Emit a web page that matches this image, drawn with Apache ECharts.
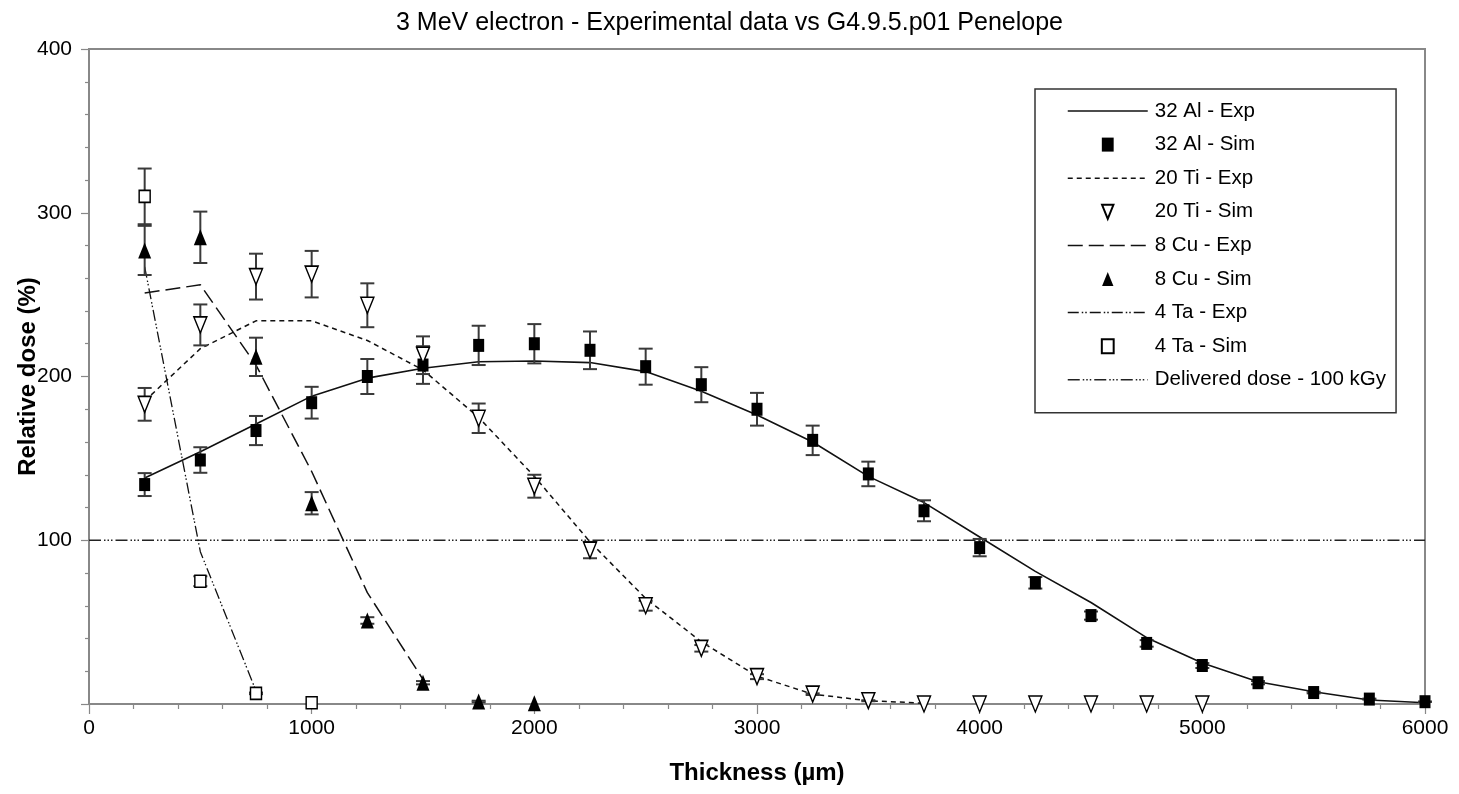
<!DOCTYPE html>
<html>
<head>
<meta charset="utf-8">
<script src="https://cdn.jsdelivr.net/npm/echarts@6/dist/echarts.min.js"></script>
<style>
  html, body { margin: 0; padding: 0; background: #fff; }
  #doseChart { width: 1459px; height: 794px; }
</style>
</head>
<body>
<div id="doseChart"></div>
<script>
// thickness grid (µm) shared by all series
const thickness = [250, 500, 750, 1000, 1250, 1500, 1750, 2000, 2250, 2500, 2750, 3000,
  3250, 3500, 3750, 4000, 4250, 4500, 4750, 5000, 5250, 5500, 5750, 6000];

// 32 Al
const alExp = [138, 154, 171, 188, 199, 205, 209, 209.5, 208.5, 203, 191, 176.5,
  160, 139, 123, 102, 81, 62, 40.5, 25, 13.6, 7.5, 2.4, 0.8];
const alSim = [134, 149, 167, 184, 200, 207, 219, 220, 216, 206, 195, 180,
  161, 140.5, 118, 95.5, 74, 54, 37, 23.5, 13, 7, 3, 1.4];
const alErr = [7, 7.8, 8.9, 9.7, 10.7, 11.5, 12, 12, 11.5, 11, 10.7, 10,
  9, 7.5, 6.4, 5.3, 3.5, 2.5, 2, 1.5, 1, 0.5, 0.3, 0.1];

// 20 Ti
const tiExp = [185, 217, 234, 234, 222, 204, 175, 139, 99, 64.5, 38, 17, 6, 2, 0.5];
const tiSim = [183, 231.5, 261, 262.5, 243.5, 213, 174.5, 133, 94, 60, 34, 16.7,
  6, 2, 0, 0, 0, 0, 0, 0];
const tiErr = [10, 12.5, 14, 14.2, 13.4, 11.5, 9, 7, 5, 3, 2, 1.5, 0.5, 0.3, 0, 0, 0, 0, 0, 0];

// 8 Cu
const cuExp = [251, 256, 207, 142, 68, 15];
const cuSim = [277, 285, 212, 122.6, 51, 13, 1.5, 0.5];
const cuErr = [15, 15.7, 11.7, 6.8, 2, 1, 0.5, 0];

// 4 Ta
const taExp = [267, 93, 8];
const taSim = [310, 75, 6.5, 0.8];
const taErr = [17, 3, 0.5, 0];

const deliveredDose = 100;

const FONT = '"Liberation Sans Narrow", "Liberation Sans", Arial, sans-serif';

function pairs(values) {
  return values.map(function (v, i) { return [thickness[i], v]; });
}

function errRows(values, errs) {
  const rows = [];
  values.forEach(function (v, i) {
    if (errs[i] > 0) rows.push([thickness[i], v - errs[i], v + errs[i]]);
  });
  return rows;
}

const errorData = [].concat(
  errRows(alSim, alErr), errRows(tiSim, tiErr), errRows(cuSim, cuErr), errRows(taSim, taErr)
);

function renderErrorBar(params, api) {
  const x = api.value(0);
  const lo = api.coord([x, api.value(1)]);
  const hi = api.coord([x, api.value(2)]);
  const half = 7;
  const style = { stroke: '#3a3a3a', lineWidth: 2 };
  return {
    type: 'group',
    children: [
      { type: 'line', shape: { x1: hi[0], y1: hi[1], x2: lo[0], y2: lo[1] }, style: style },
      { type: 'line', shape: { x1: hi[0] - half, y1: hi[1], x2: hi[0] + half, y2: hi[1] }, style: style },
      { type: 'line', shape: { x1: lo[0] - half, y1: lo[1], x2: lo[0] + half, y2: lo[1] }, style: style }
    ]
  };
}

const squareIcon = 'path://M0,0L11,0L11,13L0,13Z';
const upIcon = 'path://M6.5,0L13,16L0,16Z';
const downIcon = 'path://M0,0L13,0L6.5,16Z';
const noSymbol = { opacity: 0 };

const option = {
  backgroundColor: '#fff',
  animation: false,
  title: {
    text: '3 MeV electron - Experimental data vs G4.9.5.p01 Penelope',
    left: 'center',
    top: 6,
    textStyle: { fontFamily: FONT, fontSize: 25, fontWeight: 'normal', color: '#000' }
  },
  legend: {
    orient: 'vertical',
    left: 1035,
    top: 89,
    padding: [11, 10, 22, 32],
    itemWidth: 80,
    itemHeight: 14,
    itemGap: 11.6,
    borderColor: '#333',
    borderWidth: 1.5,
    backgroundColor: '#fff',
    textStyle: { fontFamily: FONT, fontSize: 20.5, color: '#000', lineHeight: 22, padding: [0, 0, 0, 2] },
    lineStyle: { width: 1.5 },
    data: [
      { name: '32 Al - Exp', itemStyle: noSymbol },
      { name: '32 Al - Sim', icon: squareIcon },
      { name: '20 Ti - Exp', itemStyle: noSymbol },
      { name: '20 Ti - Sim', icon: downIcon },
      { name: '8 Cu - Exp', itemStyle: noSymbol },
      { name: '8 Cu - Sim', icon: upIcon },
      { name: '4 Ta - Exp', itemStyle: noSymbol },
      { name: '4 Ta - Sim', icon: squareIcon },
      { name: 'Delivered dose - 100 kGy', itemStyle: noSymbol }
    ]
  },
  grid: {
    left: 89, right: 34, top: 49, bottom: 90,
    containLabel: false,
    outerBoundsMode: 'none',
    show: true, borderColor: '#888', borderWidth: 2, backgroundColor: 'transparent'
  },
  xAxis: {
    type: 'value',
    min: 0, max: 6000, interval: 1000,
    name: 'Thickness (µm)',
    nameLocation: 'middle',
    nameGap: 57,
    nameMoveOverlap: false,
    nameTextStyle: { fontFamily: FONT, fontSize: 24, fontWeight: 'bold', color: '#000' },
    axisLine: { lineStyle: { color: '#888', width: 2 } },
    axisTick: { length: 10, lineStyle: { color: '#888', width: 1.2 } },
    minorTick: { show: true, splitNumber: 5, length: 5, lineStyle: { color: '#888', width: 1.2 } },
    splitLine: { show: false },
    axisLabel: {
      fontFamily: FONT, fontSize: 21, color: '#000', margin: 14,
      formatter: function (v) { return String(v); }
    }
  },
  yAxis: {
    type: 'value',
    min: 0, max: 400, interval: 100,
    name: 'Relative dose (%)',
    nameLocation: 'middle',
    nameGap: 49,
    nameMoveOverlap: false,
    nameTextStyle: { fontFamily: FONT, fontSize: 24, fontWeight: 'bold', color: '#000' },
    axisLine: { show: true, lineStyle: { color: '#888', width: 2 } },
    axisTick: { show: true, length: 8, lineStyle: { color: '#888', width: 1.2 } },
    minorTick: { show: true, splitNumber: 5, length: 4, lineStyle: { color: '#888', width: 1.2 } },
    splitLine: { show: false },
    axisLabel: {
      fontFamily: FONT, fontSize: 21, color: '#000', margin: 17,
      formatter: function (v) { return v === 0 ? '' : String(v); }
    }
  },
  series: [
    {
      name: 'Delivered dose - 100 kGy', type: 'line', symbol: 'none', z: 2,
      data: [[0, deliveredDose], [6000, deliveredDose]],
      lineStyle: { color: '#222', width: 1.3, type: [12, 3, 1.5, 2, 1.5, 2, 1.5, 3] }
    },
    {
      name: '32 Al - Exp', type: 'line', symbol: 'none', z: 3,
      data: pairs(alExp),
      lineStyle: { color: '#111', width: 1.6 }
    },
    {
      name: '20 Ti - Exp', type: 'line', symbol: 'none', z: 3,
      data: pairs(tiExp),
      lineStyle: { color: '#111', width: 1.5, type: [5, 4] }
    },
    {
      name: '8 Cu - Exp', type: 'line', symbol: 'none', z: 3,
      data: pairs(cuExp),
      lineStyle: { color: '#111', width: 1.5, type: [15, 6] }
    },
    {
      name: '4 Ta - Exp', type: 'line', symbol: 'none', z: 3,
      data: pairs(taExp),
      lineStyle: { color: '#111', width: 1.3, type: [11, 3, 1.5, 2, 1.5, 3] }
    },
    {
      name: 'error bars', type: 'custom', z: 4,
      renderItem: renderErrorBar,
      encode: { x: 0, y: [1, 2] },
      data: errorData,
      silent: true
    },
    {
      name: '32 Al - Sim', type: 'scatter', z: 5,
      symbol: 'rect', symbolSize: [11, 13],
      data: pairs(alSim),
      itemStyle: { color: '#000', opacity: 1 }
    },
    {
      name: '20 Ti - Sim', type: 'scatter', z: 5,
      symbol: 'triangle', symbolRotate: 180, symbolSize: [13, 16],
      data: pairs(tiSim),
      itemStyle: { color: '#fff', borderColor: '#000', borderWidth: 1.5, opacity: 1 }
    },
    {
      name: '8 Cu - Sim', type: 'scatter', z: 5,
      symbol: 'triangle', symbolSize: [13, 16],
      data: pairs(cuSim),
      itemStyle: { color: '#000', opacity: 1 }
    },
    {
      name: '4 Ta - Sim', type: 'scatter', z: 5,
      symbol: 'rect', symbolSize: [11, 12],
      data: pairs(taSim),
      itemStyle: { color: '#fff', borderColor: '#000', borderWidth: 1.5, opacity: 1 }
    }
  ]
};

const doseChart = echarts.init(document.getElementById('doseChart'));
doseChart.setOption(option);
</script>
</body>
</html>
